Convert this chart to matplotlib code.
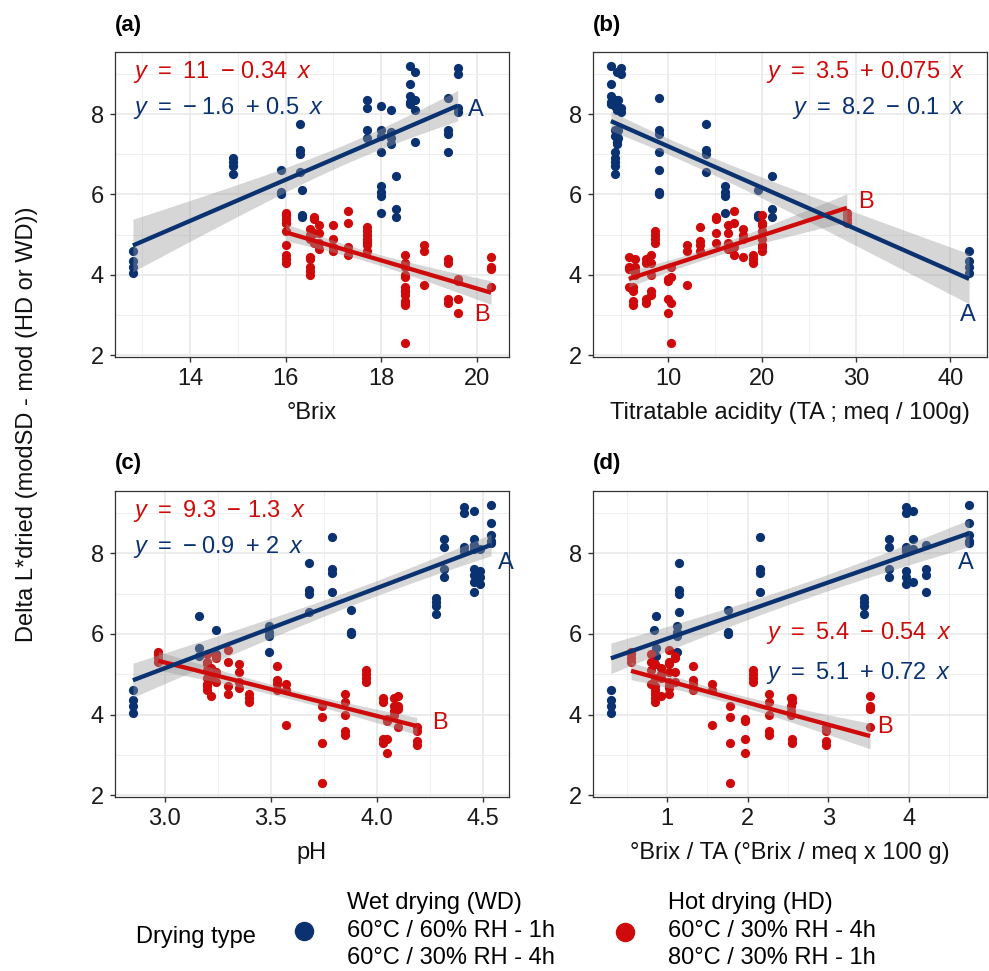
import numpy as np
import matplotlib
matplotlib.use("Agg")
import matplotlib.pyplot as plt
from matplotlib.ticker import FixedLocator
from matplotlib.lines import Line2D

plt.rcParams['font.family'] = ['Liberation Sans', 'DejaVu Sans']
plt.rcParams['mathtext.fontset'] = 'custom'
plt.rcParams['mathtext.rm'] = 'Liberation Sans'
plt.rcParams['mathtext.it'] = 'Liberation Sans:italic'

# ---------------- data (one entry per sample, replicates in *_dl) ----------------
# Wet drying (WD)
wd_brix = [12.8, 14.9, 15.9, 16.3, 18.3, 18.0, 16.35, 19.4, 17.7, 18.7, 19.6, 18.6, 18.0, 18.2]
wd_ta = [42.0, 4.3, 9.0, 14.0, 21.0, 16.0, 19.5, 9.0, 4.7, 4.6, 4.95, 3.9, 4.3, 4.6]
wd_ph = [2.85, 4.28, 3.88, 3.68, 3.16, 3.49, 3.24, 3.79, 4.32, 4.46, 4.41, 4.54, 4.46, 4.49]
wd_ratio = [0.30, 3.45, 1.75, 1.15, 0.86, 1.12, 0.84, 2.15, 3.75, 4.05, 3.97, 4.75, 4.22, 3.97]
wd_dl = [[4.05, 4.2, 4.35, 4.6], [6.5, 6.7, 6.8, 6.9], [6.0, 6.05, 6.6], [6.55, 7.0, 7.1, 7.75],
         [5.45, 5.65, 6.45], [5.55, 5.95, 6.05, 6.2], [5.45, 5.5, 6.1], [7.05, 7.5, 7.6, 8.4],
         [7.4, 7.6, 8.15, 8.35], [7.3, 8.1, 8.35, 9.05], [8.05, 8.15, 9.0, 9.15],
         [8.25, 8.3, 8.45, 8.75, 9.2], [7.05, 7.45, 7.6, 8.2], [7.25, 7.4, 7.55, 8.1]]

# Hot drying (HD)
hd_brix = [16.0, 18.5, 19.6, 18.9, 17.7, 18.5, 20.3, 19.4, 18.5, 16.5, 17.7, 16.6, 17.3, 16.7,
           17.0, 16.0, 16.0, 16.5]
hd_ta = [29.0, 10.3, 10.0, 12.0, 8.55, 6.2, 5.8, 7.6, 8.2, 6.5, 13.4, 15.1, 17.0, 16.4,
         20.0, 20.0, 19.0, 18.0]
hd_ph = [2.97, 3.74, 4.05, 3.57, 3.95, 4.19, 4.10, 4.03, 3.85, 4.08, 3.53, 3.24, 3.30, 3.35,
         3.20, 3.20, 3.40, 3.22]
hd_ratio = [0.55, 1.78, 1.97, 1.55, 2.07, 2.97, 3.52, 2.55, 2.26, 2.54, 1.32, 1.10, 1.02, 1.02,
            0.85, 0.80, 0.85, 0.92]
hd_dl = [[5.3, 5.4, 5.5, 5.55], [2.3, 3.3, 3.95, 4.2], [3.05, 3.4, 3.85, 3.9], [3.75, 4.6, 4.75],
         [4.8, 4.9, 5.0, 5.1], [3.25, 3.35, 3.6, 3.7], [3.7, 4.15, 4.2, 4.45], [3.3, 3.4, 4.3, 4.4],
         [3.5, 3.6, 4.0, 4.3, 4.5], [4.0, 4.1, 4.2, 4.4], [4.6, 4.75, 4.85, 5.2],
         [4.8, 5.05, 5.4, 5.45], [4.5, 4.7, 5.3, 5.6], [4.65, 4.8, 5.05, 5.25],
         [4.6, 4.7, 4.9, 5.25], [4.75, 5.1, 5.3, 5.5], [4.3, 4.4, 4.5], [4.45, 4.9, 5.0, 5.15]]

panel_tags = ['(a)', '(b)', '(c)', '(d)']
x_titles = ['°Brix', 'Titratable acidity (TA ; meq / 100g)', 'pH', '°Brix / TA (°Brix / meq x 100 g)']
x_ticks = [[14, 16, 18, 20], [10, 20, 30, 40], [3.0, 3.5, 4.0, 4.5], [1, 2, 3, 4]]
x_ticklabels = [['14', '16', '18', '20'], ['10', '20', '30', '40'],
                ['3.0', '3.5', '4.0', '4.5'], ['1', '2', '3', '4']]
y_ticks = [2, 4, 6, 8]
# regression equation pieces: (intercept text, operator, slope text)
hd_eq = [('11', '\u2212', '0.34'), ('3.5', '+', '0.075'), ('9.3', '\u2212', '1.3'), ('5.4', '\u2212', '0.54')]
wd_eq = [('\u2212\u20091.6', '+', '0.5'), ('8.2', '\u2212', '0.1'), ('\u2212\u20090.9', '+', '2'),
         ('5.1', '+', '0.72')]
legend_title = 'Drying type'
wd_legend = ['Wet drying (WD)', '60°C / 60% RH - 1h', '60°C / 30% RH - 4h']
hd_legend = ['Hot drying (HD)', '60°C / 30% RH - 4h', '80°C / 30% RH - 1h']
y_title = 'Delta L*dried (modSD - mod (HD or WD))'

WD_COL = '#0B3270'
HD_COL = '#CF0A0A'
FS = 17
SP = ' \u2009'


def eq_text(parts):
    a, op, b = parts
    return '$y$' + SP + '=' + SP + a + SP + op + ' ' + b + SP + '$x$'


W, H = 989, 971
fig = plt.figure(figsize=(W / 100, H / 100), dpi=100)


def px_axes(l, t, r, b):
    return fig.add_axes([l / W, 1 - b / H, (r - l) / W, (b - t) / H])


def expand(xs):
    x = np.concatenate([np.atleast_1d(v) for v in xs])
    lo, hi = x.min(), x.max()
    d = (hi - lo) * 0.05
    return lo - d, hi + d


def t975(df):
    z = 1.959964
    return z + (z**3 + z) / (4 * df) + (5 * z**5 + 16 * z**3 + 3 * z) / (96 * df**2)


def explode(xv, yv):
    xs = np.concatenate([[x] * len(y) for x, y in zip(xv, yv)])
    ys = np.concatenate([np.asarray(y, float) for y in yv])
    return xs, ys


def smooth(ax, x, y, col):
    n = len(x)
    b, a = np.polyfit(x, y, 1)
    xg = np.linspace(x.min(), x.max(), 80)
    yh = a + b * xg
    res = y - (a + b * x)
    s = np.sqrt(np.sum(res**2) / (n - 2))
    sxx = np.sum((x - x.mean())**2)
    se = s * np.sqrt(1 / n + (xg - x.mean())**2 / sxx)
    tq = t975(n - 2)
    ax.fill_between(xg, yh - tq * se, yh + tq * se, color='#999999', alpha=0.4, lw=0, zorder=3)
    ax.plot(xg, yh, color=col, lw=3.1, solid_capstyle='butt', zorder=4)


boxes = [(115, 52, 509, 357), (593, 52, 987, 357), (115, 491, 509, 797), (593, 491, 987, 797)]
wd_x = [wd_brix, wd_ta, wd_ph, wd_ratio]
hd_x = [hd_brix, hd_ta, hd_ph, hd_ratio]

# A/B label positions (data coords) and equation positions (axes fraction)
ab_pos = [((19.98, 8.1), (20.1, 3.0)), ((41.9, 3.0), (31.0, 5.8)),
          ((4.61, 7.75), (4.30, 3.8)), ((4.71, 7.75), (3.71, 3.7))]
eq_pos = [(0.046, 0.934, 0.816, 'left'), (0.944, 0.934, 0.816, 'right'),
          (0.046, 0.934, 0.816, 'left'), (0.911, 0.536, 0.405, 'right')]

for i in range(4):
    l, t, r, b = boxes[i]
    ax = px_axes(l, t, r, b)
    wx, wy = explode(wd_x[i], wd_dl)
    hx, hy = explode(hd_x[i], hd_dl)
    ax.scatter(wx, wy, s=44, color=WD_COL, lw=0, zorder=2)
    ax.scatter(hx, hy, s=44, color=HD_COL, lw=0, zorder=2)
    smooth(ax, hx, hy, HD_COL)
    smooth(ax, wx, wy, WD_COL)
    ax.set_xlim(*expand([wx, hx]))
    ax.set_ylim(*expand([wy, hy]))
    xt = x_ticks[i]
    step = xt[1] - xt[0]
    ax.xaxis.set_major_locator(FixedLocator(xt))
    ax.set_xticklabels(x_ticklabels[i])
    minors = [xt[0] - step / 2] + [v + step / 2 for v in xt]
    ax.xaxis.set_minor_locator(FixedLocator(minors))
    ax.yaxis.set_major_locator(FixedLocator(y_ticks))
    ax.set_yticklabels([str(v) for v in y_ticks])
    ax.yaxis.set_minor_locator(FixedLocator([1, 3, 5, 7, 9]))
    ax.grid(which='major', color='#EBEBEB', lw=1.3, zorder=0)
    ax.grid(which='minor', color='#EFEFEF', lw=0.7, zorder=0)
    ax.set_axisbelow(True)
    ax.tick_params(which='major', length=3.5, width=1.0, color='#333333',
                   labelsize=FS, labelcolor='#1A1A1A', pad=4.5)
    ax.tick_params(which='minor', length=0)
    for sp in ax.spines.values():
        sp.set_color('#333333')
        sp.set_linewidth(0.9)
    # equations
    ex, ey1, ey2, ha = eq_pos[i]
    ax.text(ex, ey1, eq_text(hd_eq[i]), transform=ax.transAxes, ha=ha, va='center',
            fontsize=FS, color=HD_COL, zorder=6)
    ax.text(ex, ey2, eq_text(wd_eq[i]), transform=ax.transAxes, ha=ha, va='center',
            fontsize=FS, color=WD_COL, zorder=6)
    (axA, ayA), (bxB, byB) = ab_pos[i]
    ax.text(axA, ayA, 'A', ha='center', va='center', fontsize=FS, color=WD_COL, zorder=6)
    ax.text(bxB, byB, 'B', ha='center', va='center', fontsize=FS, color=HD_COL, zorder=6)
    # panel tag and x title
    fig.text(l / W, 1 - (t - 27) / H, panel_tags[i], ha='left', va='center',
             fontsize=16, fontweight='bold')
    fig.text((l + r) / 2 / W, 1 - (b + 56) / H, x_titles[i], ha='center', va='center',
             fontsize=FS, color='#111111')

fig.text(27 / W, 1 - 424 / H, y_title, rotation=90, ha='center', va='center', fontsize=FS,
         color='#111111')

# legend
fig.text(136 / W, 1 - 937 / H, legend_title, ha='left', va='center', fontsize=FS)
fig.add_artist(Line2D([304 / W], [1 - 931 / H], marker='o', markersize=13, color=WD_COL,
                      lw=0, transform=fig.transFigure))
fig.add_artist(Line2D([625 / W], [1 - 932 / H], marker='o', markersize=13, color=HD_COL,
                      lw=0, transform=fig.transFigure))
for k, yy in enumerate([903, 931, 958]):
    fig.text(347 / W, 1 - yy / H, wd_legend[k], ha='left', va='center', fontsize=FS)
    fig.text(668 / W, 1 - yy / H, hd_legend[k], ha='left', va='center', fontsize=FS)

fig.savefig('out.png', dpi=100, facecolor='white')
